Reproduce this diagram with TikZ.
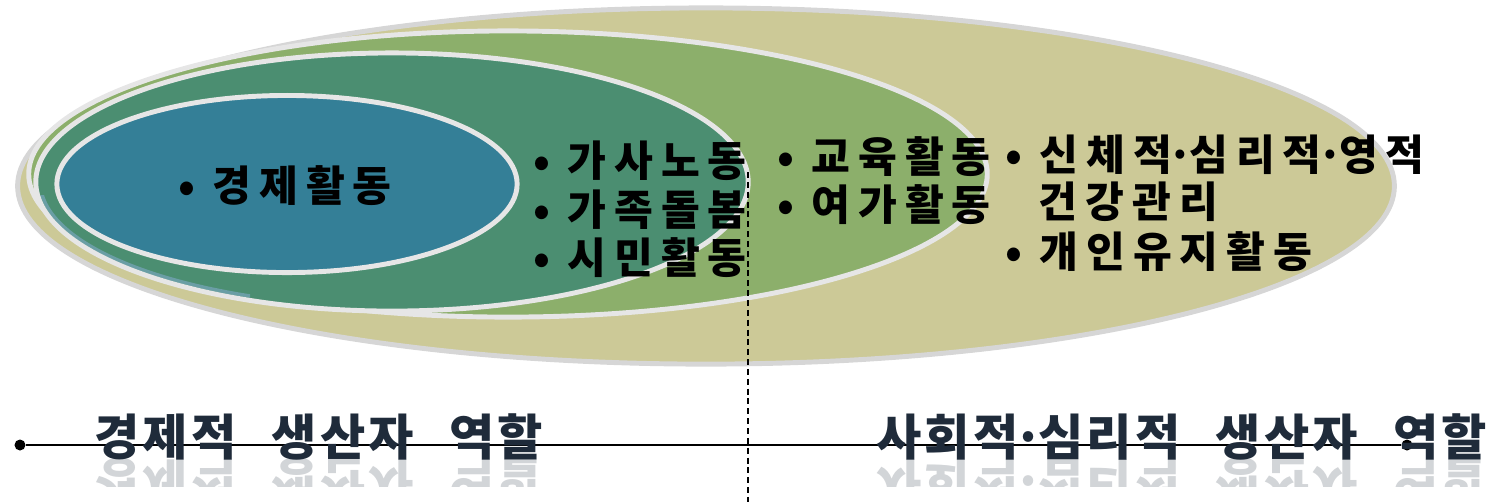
\documentclass[tikz,border=0pt]{standalone}
\usepackage{fontspec}
\setmainfont{Noto Sans CJK KR}
\usetikzlibrary{positioning}

\definecolor{khaki}{HTML}{CCC997}
\definecolor{leaf}{HTML}{8CAF6B}
\definecolor{pine}{HTML}{4B8E71}
\definecolor{sea}{HTML}{347F97}
\definecolor{mist}{HTML}{6A9EA5}
\definecolor{rimgray}{HTML}{E6E6E6}
\definecolor{outline}{HTML}{D6D6D6}
\definecolor{ink}{HTML}{1F2B3A}

\newcommand{\itemfont}{\fontsize{12}{14}\selectfont\bfseries\addfontfeature{LetterSpace=19}}
\newcommand{\rolefont}{\fontsize{14}{16}\selectfont\bfseries\addfontfeature{LetterSpace=6}}
\newcommand{\wsp}{\hspace{0.72em}}
\newcommand{\md}{\hspace{-0.1em}·\hspace{-0.1em}}
\newcommand{\bul}{•\hspace{0.4em}}

\tikzset{
  rim/.style={draw=rimgray, line width=1.4pt},
  item/.style={anchor=west, inner sep=0pt, font=\itemfont},
  role/.style={anchor=west, inner sep=0pt, font=\rolefont, text=ink},
  endpt/.style={circle, fill=black, inner sep=0pt, minimum size=1.1mm}
}

\begin{document}
\begin{tikzpicture}[x=0.01cm, y=-0.01cm]
\useasboundingbox (0,0) rectangle (1505,502);

% Ellipses
\draw [rim, draw=outline, fill=khaki] (706,186) ellipse [x radius=6.88cm, y radius=1.78cm];
\draw [rim, fill=leaf] (508,174) ellipse [x radius=4.79cm, y radius=1.43cm];
\fill [pine] (392,182) ellipse [x radius=3.56cm, y radius=1.29cm];
\begin{scope}
\clip (0,195) rectangle (250,330);
\draw [draw=mist, line width=1pt] (392,182) ellipse [x radius=3.515cm, y radius=1.245cm];
\end{scope}
\draw [rim] (392,182) ellipse [x radius=3.56cm, y radius=1.29cm];
\draw [rim, fill=sea] (287,184) ellipse [x radius=2.30cm, y radius=0.885cm];

% Divider
\coordinate (cut top) at (748,172);
\coordinate (cut end) at (748,502);
\draw [line width=0.5pt, dash pattern=on 1.7pt off 1.1pt] (cut top) -- (cut end);

% Activities
\node [item] (econ) at (178,186) {\bul 경제활동};

\node [item] (house) at (533,161) {\bul 가사노동};
\node [item] (care) at (533,210) {\bul 가족돌봄};
\node [item] (civic) at (533,258) {\bul 시민활동};

\node [item] (edu) at (777,157) {\bul 교육활동};
\node [item] (leisure) at (777,205) {\bul 여가활동};

\node [item] (body) at (1005,155) {\bul 신체적\md 심리적\md 영적};
\node [item] (health) at (1038,202) {건강관리};
\node [item] (self) at (1005,252) {\bul 개인유지활동};

% Roles axis
\node [endpt] (left end) at (20,445) {};
\node [endpt] (right end) at (1407,445) {};
\draw [line width=0.7pt] (left end) -- (right end);

\node [role] (econ role) at (94,437) {경제적\wsp 생산자\wsp 역할};
\node [role] (social role) at (876,437) {사회적\md 심리적\wsp 생산자\wsp 역할};

% Reflections
\begin{scope}
\clip (0,459) rectangle (1505,486);
\begin{scope}[shift={(0,459)}, yscale=-1]
\node [role, transform shape, opacity=0.2] (econ mirror) at (94,-22) {경제적\wsp 생산자\wsp 역할};
\node [role, transform shape, opacity=0.2] (social mirror) at (876,-22) {사회적\md 심리적\wsp 생산자\wsp 역할};
\end{scope}
\end{scope}
\end{tikzpicture}
\end{document}
